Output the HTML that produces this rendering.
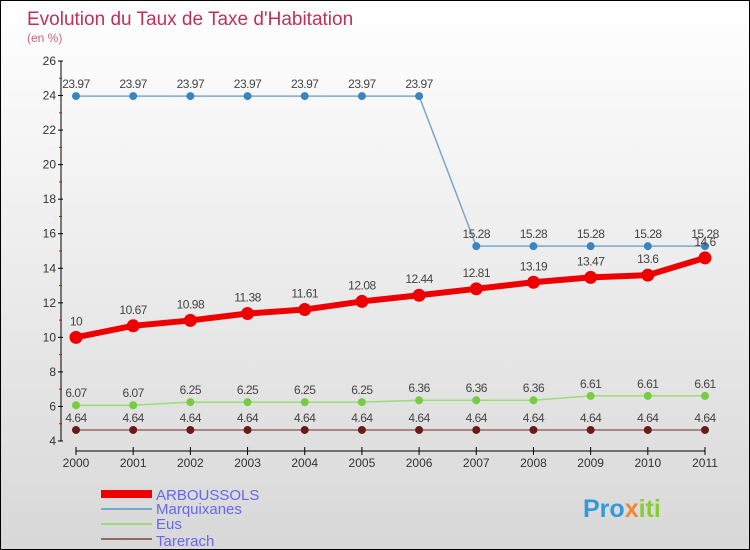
<!DOCTYPE html>
<html><head><meta charset="utf-8"><style>
body{margin:0}
#c{width:750px;height:550px;position:relative;font-family:"Liberation Sans",sans-serif;background:linear-gradient(#ffffff,#d8d8d8);box-sizing:border-box;border:1px solid #000;overflow:hidden}
text{font-family:"Liberation Sans",sans-serif}
</style></head><body>
<div id="c">
<svg width="750" height="550" id="svg">
<text x="26" y="24" font-size="19" fill="#c0305a">Evolution du Taux de Taxe d'Habitation</text>
<text x="26" y="41" font-size="12" fill="#d06080">(en %)</text>
<g id="axes"></g><g id="series"></g>
<g>
<rect x="100" y="489" width="51" height="8" fill="#ee0000"/>
<text x="155" y="499" font-size="15" fill="#6666ee">ARBOUSSOLS</text>
<line x1="100" y1="508" x2="151" y2="508" stroke="#7aa8cc" stroke-width="2"/>
<text x="155" y="513" font-size="15" fill="#6666ee">Marquixanes</text>
<line x1="100" y1="523" x2="151" y2="523" stroke="#99dd77" stroke-width="2"/>
<text x="155" y="528" font-size="15" fill="#6666ee">Eus</text>
<line x1="100" y1="538" x2="151" y2="538" stroke="#996666" stroke-width="2"/>
<text x="155" y="545" font-size="15" fill="#6666ee">Tarerach</text>
</g>
<text x="582" y="516" font-size="25" font-weight="bold" fill="#3399dd">Pro<tspan fill="#ee8833">x</tspan><tspan fill="#88cc33">iti</tspan></text>
</svg></div>
<script>
const years=["2000","2001","2002","2003","2004","2005","2006","2007","2008","2009","2010","2011"];
const yTicks=[4,6,8,10,12,14,16,18,20,22,24,26];
const arboussols=[10,10.67,10.98,11.38,11.61,12.08,12.44,12.81,13.19,13.47,13.6,14.6];
const marquixanes=[23.97,23.97,23.97,23.97,23.97,23.97,23.97,15.28,15.28,15.28,15.28,15.28];
const eus=[6.07,6.07,6.25,6.25,6.25,6.25,6.36,6.36,6.36,6.61,6.61,6.61];
const tarerach=[4.64,4.64,4.64,4.64,4.64,4.64,4.64,4.64,4.64,4.64,4.64,4.64];
const NS="http://www.w3.org/2000/svg";
function x(i){return 75+i*(704-75)/11;}
function y(v){return 440-(v-4)*380/22;}
function mk(t,a,p){const e=document.createElementNS(NS,t);for(const k in a)e.setAttribute(k,a[k]);p.appendChild(e);return e;}
const ax=document.getElementById('axes'),sg=document.getElementById('series');
const yl=mk('line',{x1:60,y1:60,x2:60,y2:440,stroke:'#000'},ax);


yTicks.forEach(v=>{
 mk('line',{x1:57,y1:y(v),x2:62,y2:y(v),stroke:'#000'},ax);
 if(v<26)mk('line',{x1:58,y1:y(v+1),x2:61,y2:y(v+1),stroke:'#e00'},ax);
 const t=mk('text',{x:55,y:y(v)+4,'font-size':12,'text-anchor':'end',fill:'#333'},ax);t.textContent=v;
 
 
});
const xl=mk('line',{x1:75,y1:450,x2:704,y2:450,stroke:'#000'},ax);


years.forEach((yr,i)=>{
 mk('line',{x1:x(i),y1:446,x2:x(i),y2:454,stroke:'#000'},ax);
 const t=mk('text',{x:x(i),y:466,'font-size':12,'text-anchor':'middle',fill:'#333'},ax);t.textContent=yr;
 
 
});
function draw(name,data,col,dot,w,r,fmt){
 const g=mk('g',{},sg);
 
 
 mk('polyline',{points:data.map((v,i)=>x(i)+','+y(v)).join(' '),fill:'none',stroke:col,'stroke-width':w},g);
 data.forEach((v,i)=>{
  const c=mk('circle',{cx:x(i),cy:y(v),r:r,fill:dot},g);
  
  
  const t=mk('text',{x:x(i),y:y(v)-8-(r>4?4:0),'font-size':12,'text-anchor':'middle',fill:'#444','letter-spacing':'-0.5'},g);
  t.textContent=String(v);
  
  
 });
}
draw('tarerach',tarerach,'#996666','#6b1a1a',1.5,4);
draw('eus',eus,'#99dd77','#77cc44',1.5,4);
draw('marquixanes',marquixanes,'#7aa8cc','#3a85c0',1.5,4);
draw('arboussols',arboussols,'#ee0000','#ee0000',6,6.5);
</script>
</body></html>
